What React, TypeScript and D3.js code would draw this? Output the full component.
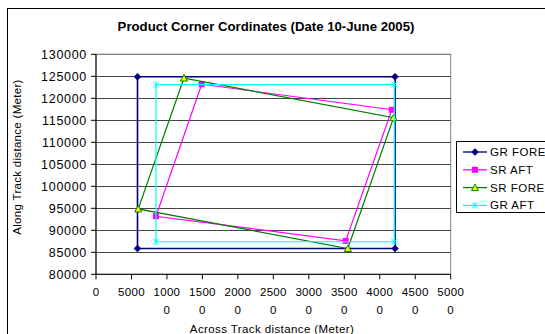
import React from "react";
import * as d3 from "d3";

const seriesNames = ["GR FORE", "SR AFT", "SR FORE", "GR AFT"];
const grForeX = [5850, 42150, 42150, 5850, 5850];
const grForeY = [124900, 124900, 85850, 85850, 124900];
const srAftX = [14900, 41700, 35200, 8450, 14900];
const srAftY = [123200, 117400, 87600, 93200, 123200];
const srForeX = [12400, 41950, 35500, 5950, 12400];
const srForeY = [124600, 115600, 85850, 94850, 124600];
const grAftX = [8450, 42050, 42050, 8450, 8450];
const grAftY = [123100, 123100, 87400, 87400, 123100];
const xTicks = [0, 5000, 10000, 15000, 20000, 25000, 30000, 35000, 40000, 45000, 50000];
const xTickLabels = [["0"], ["5000"], ["1000", "0"], ["1500", "0"], ["2000", "0"], ["2500", "0"], ["3000", "0"], ["3500", "0"], ["4000", "0"], ["4500", "0"], ["5000", "0"]];
const yTicks = [80000, 85000, 90000, 95000, 100000, 105000, 110000, 115000, 120000, 125000, 130000];

const W = 545, H = 334;
const L = 96, R = 450.7, T = 54.3, B = 274.3;
const x = d3.scaleLinear().domain([0, 50000]).range([L, R]);
const y = d3.scaleLinear().domain([80000, 130000]).range([B, T]);

const colors = ["#000080", "#FF00FF", "#008000", "#00FFFF"];
const xs = [grForeX, srAftX, srForeX, grAftX];
const ys = [grForeY, srAftY, srForeY, grAftY];

function Marker({ kind, cx, cy }: { kind: number; cx: number; cy: number }) {
  if (kind === 0) {
    return <path d={`M${cx},${cy - 3.5}L${cx + 3.5},${cy}L${cx},${cy + 3.5}L${cx - 3.5},${cy}Z`} fill="#000080" stroke="#000080" strokeWidth={0.5} />;
  }
  if (kind === 1) {
    return <rect x={cx - 3} y={cy - 3} width={6} height={6} fill="#FF00FF" />;
  }
  if (kind === 2) {
    return <path d={`M${cx},${cy - 3.5}L${cx + 3.5},${cy + 3}L${cx - 3.5},${cy + 3}Z`} fill="#FFFF00" stroke="#008000" strokeWidth={1} />;
  }
  return (
    <g stroke="#00FFFF" strokeWidth={1}>
      <path d={`M${cx - 3},${cy - 3}L${cx + 3},${cy + 3}M${cx - 3},${cy + 3}L${cx + 3},${cy - 3}M${cx},${cy - 3.5}L${cx},${cy + 3.5}`} />
    </g>
  );
}

export default function App() {
  const line = d3.line<[number, number]>().x((d) => x(d[0])).y((d) => y(d[1]));
  const font = "Liberation Sans, Arial, sans-serif";
  return (
    <svg width={W} height={H} style={{ position: "absolute", left: 0, top: 0, background: "#fff" }} fontFamily={font}>
      <rect x={0} y={0} width={W} height={H} fill="#fff" />
      <rect x={7.5} y={8.5} width={W} height={H} fill="none" stroke="#000" strokeWidth={1} />
      <text x={266} y={31} textAnchor="middle" fontSize={13.2} fontWeight="bold">Product Corner Cordinates (Date 10-June 2005)</text>
      <rect x={L} y={T} width={R - L} height={B - T} fill="#fff" stroke="#808080" strokeWidth={1} />
      {yTicks.slice(1, -1).map((t) => (
        <line key={t} x1={L} x2={R} y1={Math.round(y(t)) + 0.5} y2={Math.round(y(t)) + 0.5} stroke="#444" strokeWidth={1} />
      ))}
      <line x1={L} x2={R} y1={T} y2={T} stroke="#808080" />
      <line x1={L} x2={L} y1={T} y2={B} stroke="#000" />
      <line x1={L} x2={R} y1={B} y2={B} stroke="#000" />
      {yTicks.map((t) => (
        <g key={t}>
          <line x1={L - 5} x2={L} y1={y(t)} y2={y(t)} stroke="#000" />
          <text x={L - 9} y={y(t) + 4.5} textAnchor="end" fontSize={12.5} letterSpacing={0.7}>{String(t)}</text>
        </g>
      ))}
      {xTicks.map((t, i) => (
        <g key={t}>
          <line x1={x(t)} x2={x(t)} y1={B} y2={B + 5} stroke="#000" />
          {xTickLabels[i].map((s, j) => (
            <text key={j} x={x(t)} y={296 + j * 17.5} textAnchor="middle" fontSize={11.5} letterSpacing={0.3}>{s}</text>
          ))}
        </g>
      ))}
      <text x={272} y={333} textAnchor="middle" fontSize={11.5} letterSpacing={0.4}>Across Track distance (Meter)</text>
      <text x={0} y={0} transform="translate(21,157) rotate(-90)" textAnchor="middle" fontSize={11.5} letterSpacing={0.3}>Along Track distance (Meter)</text>
      {xs.map((sx, k) => {
        const pts: [number, number][] = sx.map((v, i) => [v, ys[k][i]]);
        return (
          <g key={k}>
            <path d={line(pts) || ""} fill="none" stroke={colors[k]} strokeWidth={k === 0 ? 1.6 : 1.2} />
            {pts.slice(0, -1).map((p, i) => (
              <Marker key={i} kind={k} cx={x(p[0])} cy={y(p[1])} />
            ))}
          </g>
        );
      })}
      <rect x={456.5} y={141.5} width={100} height={71} fill="#fff" stroke="#000" />
      {seriesNames.map((n, i) => {
        const cy = 152 + i * 17.8;
        return (
          <g key={n}>
            <line x1={463} x2={487} y1={cy} y2={cy} stroke={colors[i]} strokeWidth={1.3} />
            <Marker kind={i} cx={475} cy={cy} />
            <text x={490} y={cy + 4} fontSize={11.5} letterSpacing={0.5}>{n}</text>
          </g>
        );
      })}
    </svg>
  );
}
